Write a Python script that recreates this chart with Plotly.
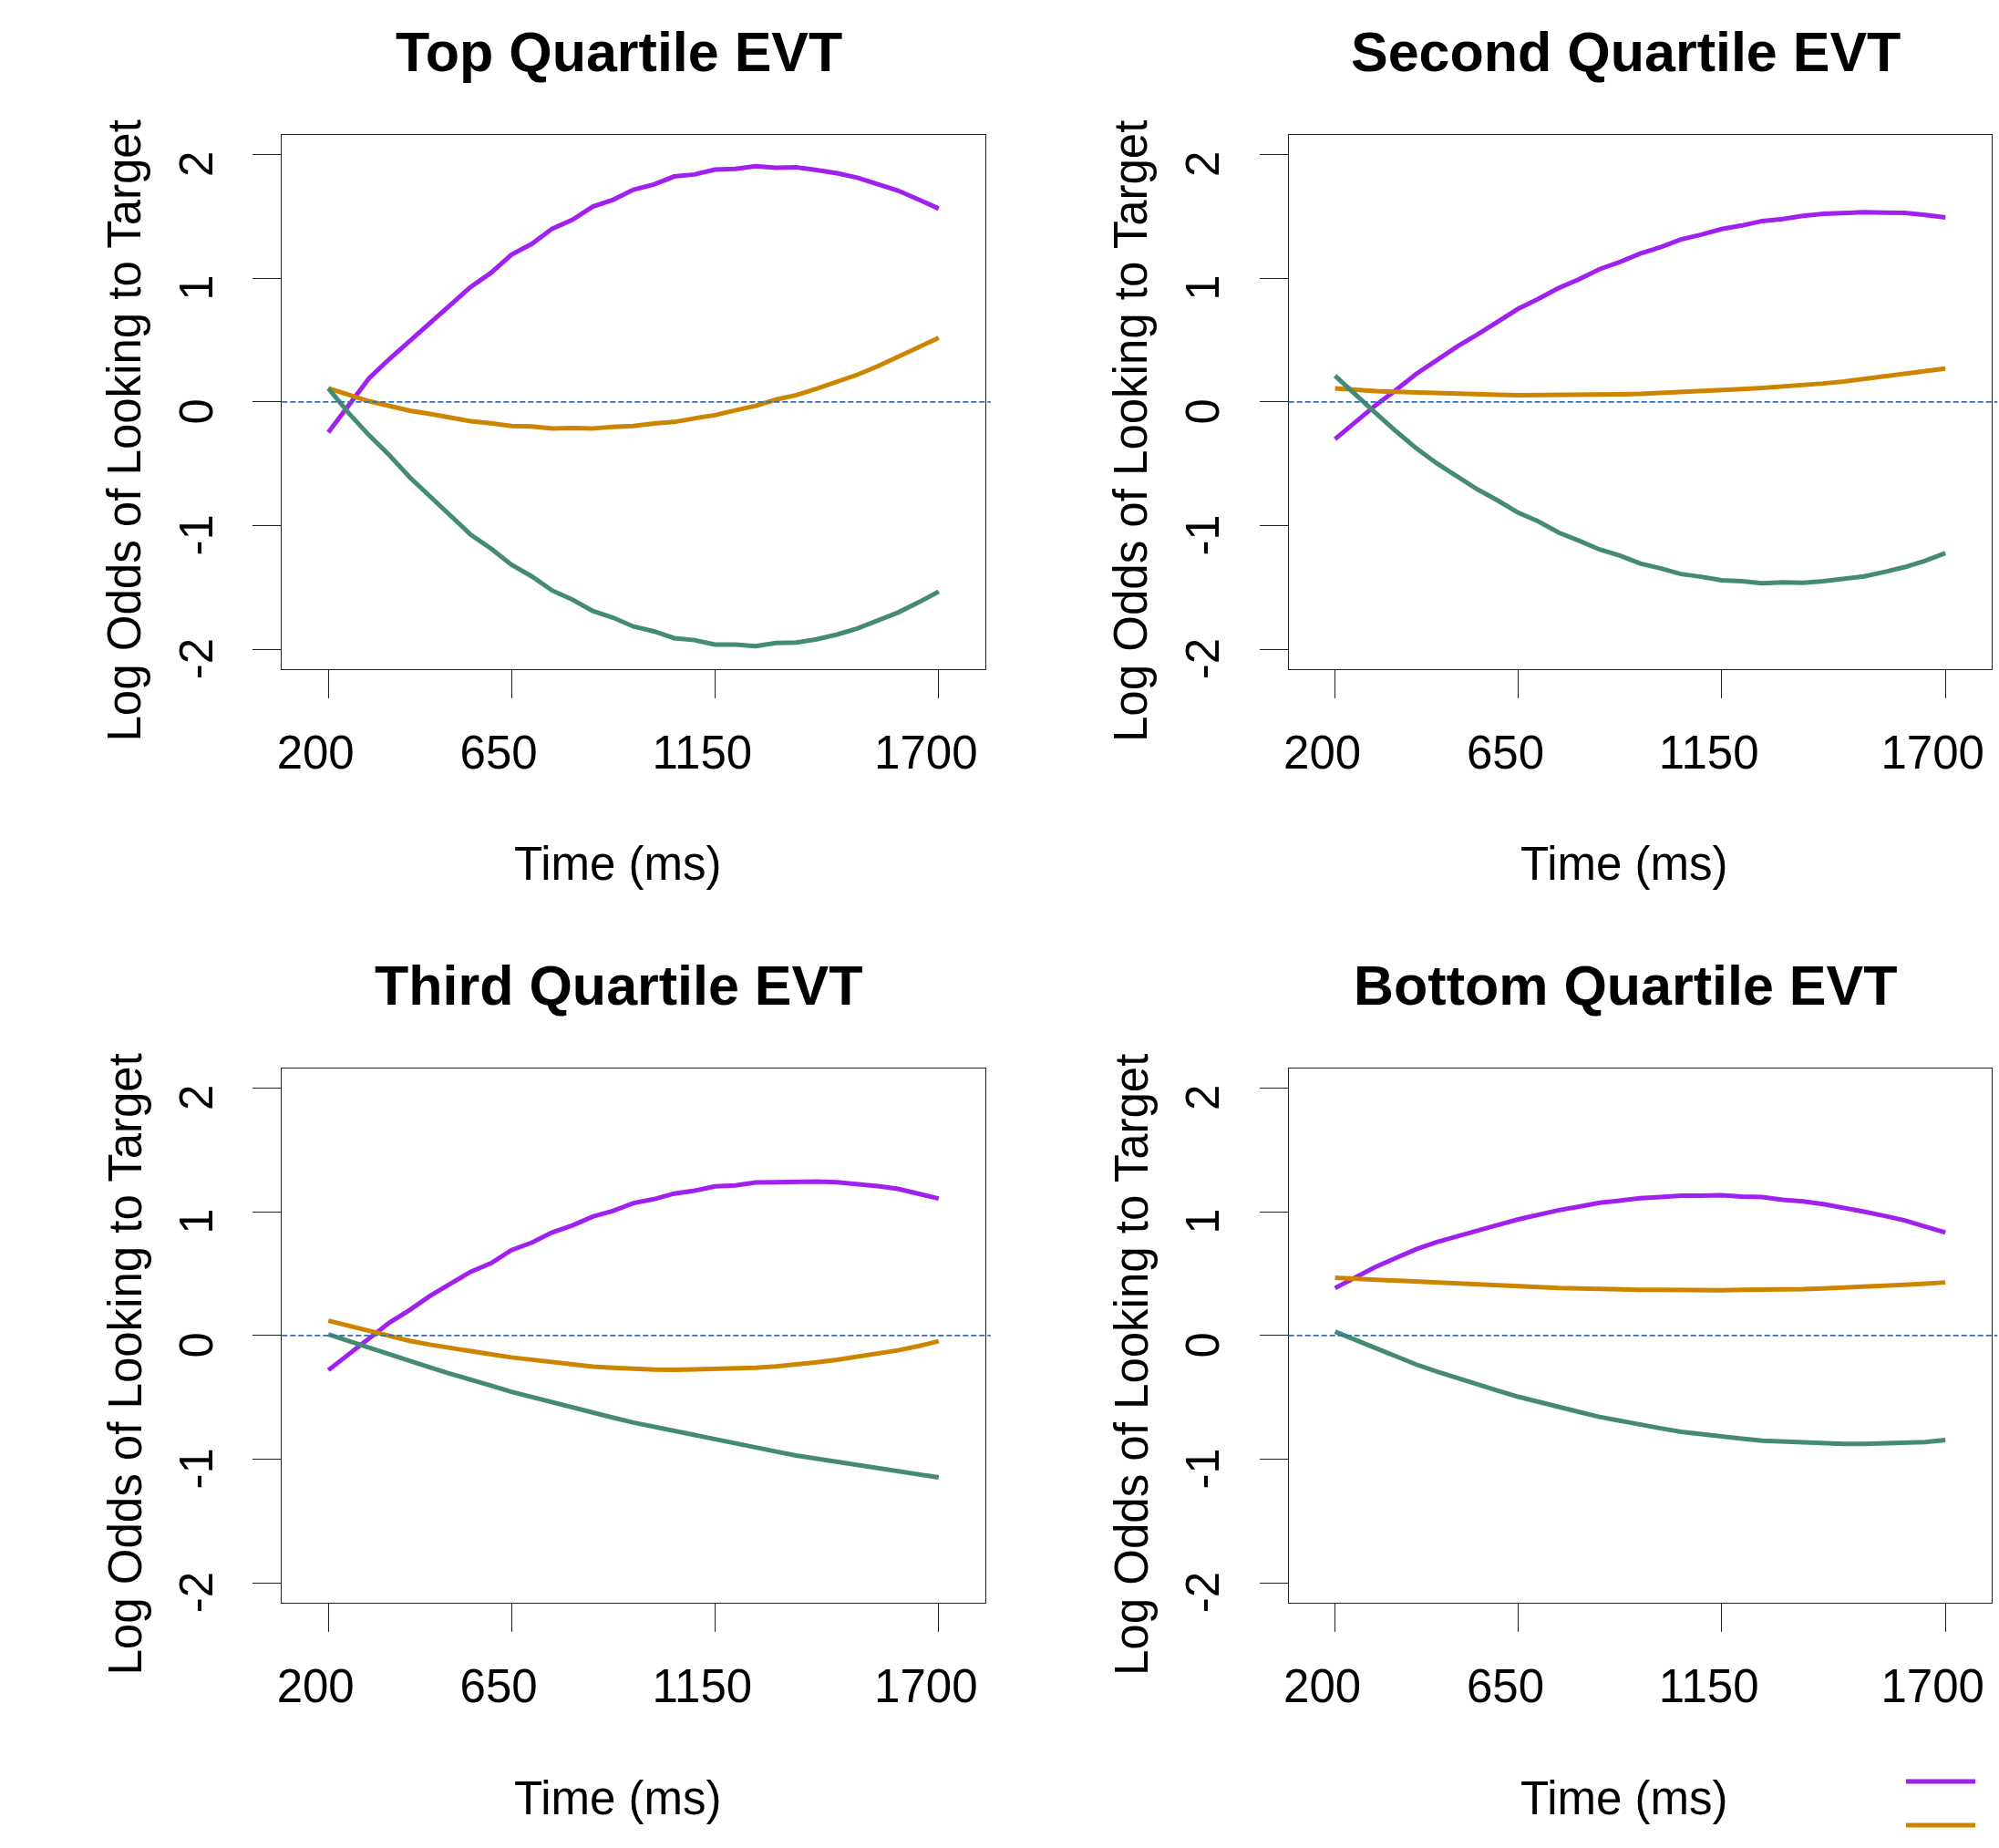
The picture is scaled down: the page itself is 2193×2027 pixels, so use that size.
import plotly.graph_objects as go

W, H = 2193, 2027

# ---------------- data ----------------
time_ms = [200, 250, 300, 350, 400, 450, 500, 550, 600, 650, 700, 750, 800, 850, 900,
           950, 1000, 1050, 1100, 1150, 1200, 1250, 1300, 1350, 1400, 1450, 1500,
           1550, 1600, 1650, 1700]

panel_titles = ["Top Quartile EVT", "Second Quartile EVT",
                "Third Quartile EVT", "Bottom Quartile EVT"]

x_tick_vals = [200, 650, 1150, 1700]
x_tick_text = ["200", "650", "1150", "1700"]
y_tick_vals = [-2, -1, 0, 1, 2]
y_tick_text = ["-2", "-1", "0", "1", "2"]

# Top quartile
top_purple = [-0.246, -0.032, 0.191, 0.347, 0.493, 0.639, 0.784, 0.930, 1.044, 1.190,
              1.277, 1.400, 1.472, 1.579, 1.634, 1.715, 1.757, 1.822, 1.838, 1.877,
              1.883, 1.906, 1.893, 1.896, 1.874, 1.848, 1.812, 1.757, 1.708, 1.637, 1.562]
top_orange = [0.110, 0.055, 0.006, -0.032, -0.071, -0.097, -0.130, -0.156, -0.172, -0.194,
              -0.198, -0.214, -0.211, -0.214, -0.201, -0.194, -0.175, -0.162, -0.133, -0.107,
              -0.068, -0.032, 0.019, 0.055, 0.107, 0.162, 0.220, 0.288, 0.360, 0.441, 0.519]
top_green = [0.110, -0.091, -0.269, -0.431, -0.609, -0.765, -0.917, -1.073, -1.186, -1.316,
             -1.410, -1.524, -1.598, -1.689, -1.744, -1.815, -1.854, -1.909, -1.925, -1.961,
             -1.961, -1.974, -1.948, -1.945, -1.919, -1.880, -1.831, -1.770, -1.702, -1.621, -1.533]

# Second quartile
second_purple = [-0.301, -0.162, -0.026, 0.097, 0.227, 0.337, 0.447, 0.545, 0.648, 0.752,
                 0.833, 0.921, 0.992, 1.073, 1.131, 1.199, 1.251, 1.313, 1.352, 1.397,
                 1.426, 1.462, 1.478, 1.504, 1.520, 1.527, 1.533, 1.530, 1.527, 1.511, 1.491]
second_orange = [0.110, 0.097, 0.088, 0.081, 0.075, 0.068, 0.065, 0.062, 0.058, 0.055,
                 0.055, 0.055, 0.058, 0.058, 0.062, 0.065, 0.071, 0.078, 0.084, 0.094,
                 0.104, 0.113, 0.123, 0.136, 0.149, 0.165, 0.185, 0.204, 0.224, 0.246, 0.269]
second_green = [0.211, 0.055, -0.091, -0.237, -0.376, -0.496, -0.603, -0.707, -0.797, -0.895,
                -0.966, -1.057, -1.122, -1.193, -1.242, -1.306, -1.345, -1.391, -1.413, -1.442,
                -1.449, -1.465, -1.459, -1.462, -1.449, -1.433, -1.410, -1.374, -1.335, -1.284, -1.222]

# Third quartile
third_purple = [-0.280, -0.149, -0.017, 0.103, 0.206, 0.320, 0.418, 0.515, 0.584, 0.690,
                0.750, 0.833, 0.890, 0.961, 1.007, 1.070, 1.102, 1.147, 1.170, 1.205,
                1.213, 1.236, 1.239, 1.245, 1.245, 1.239, 1.227, 1.207, 1.185, 1.147, 1.107]
third_orange = [0.120, 0.077, 0.034, -0.006, -0.043, -0.074, -0.103, -0.132, -0.152, -0.177,
                -0.195, -0.217, -0.232, -0.252, -0.260, -0.272, -0.275, -0.278, -0.275, -0.272,
                -0.266, -0.260, -0.249, -0.235, -0.217, -0.197, -0.174, -0.152, -0.120, -0.086, -0.046]
third_green = [0.009, -0.046, -0.097, -0.152, -0.206, -0.258, -0.309, -0.361, -0.406, -0.455,
               -0.498, -0.544, -0.584, -0.627, -0.664, -0.704, -0.738, -0.775, -0.810, -0.844,
               -0.876, -0.910, -0.938, -0.970, -0.996, -1.024, -1.050, -1.076, -1.099, -1.121, -1.147]

# Bottom quartile
bottom_purple = [0.383, 0.469, 0.555, 0.627, 0.698, 0.755, 0.804, 0.850, 0.893, 0.938,
                 0.976, 1.013, 1.041, 1.073, 1.090, 1.110, 1.119, 1.130, 1.130, 1.133,
                 1.122, 1.119, 1.096, 1.084, 1.062, 1.036, 1.001, 0.967, 0.930, 0.881, 0.833]
bottom_orange = [0.466, 0.458, 0.449, 0.441, 0.432, 0.424, 0.418, 0.409, 0.403, 0.395,
                 0.389, 0.383, 0.381, 0.375, 0.372, 0.369, 0.369, 0.366, 0.366, 0.366,
                 0.369, 0.369, 0.372, 0.375, 0.381, 0.386, 0.392, 0.401, 0.409, 0.418, 0.429]
bottom_green = [0.031, -0.037, -0.103, -0.169, -0.235, -0.292, -0.346, -0.395, -0.446, -0.495,
                -0.538, -0.584, -0.618, -0.658, -0.690, -0.727, -0.750, -0.778, -0.798, -0.821,
                -0.833, -0.850, -0.858, -0.867, -0.873, -0.876, -0.876, -0.873, -0.870, -0.861, -0.844]

series_names = ["Condition 1", "Condition 2", "Condition 3"]
series_colors = ["#A020F0", "#CD8500", "#458B74"]

panels = [
    [top_purple, top_orange, top_green],
    [second_purple, second_orange, second_green],
    [third_purple, third_orange, third_green],
    [bottom_purple, bottom_orange, bottom_green],
]

# ---------------- layout geometry (pixels) ----------------
FONT = "Liberation Sans, Arial, Helvetica, sans-serif"
col_left = [309.3, 1413.7]
row_top = [147.7, 1171.7]
box_w, box_h = 771.4, 586.3
title_cx = [678.5, 1783.0]
title_cy = [57.0, 1081.0]
xlab_cy = [948.0, 1972.0]
ylab_cx = [136.5, 1241.0]
ylab_cy = [473.0, 1497.0]


def px_x(p):
    return p / W


def px_y(p):
    return 1 - p / H


fig = go.Figure()
layout = dict(
    width=W, height=H, autosize=False,
    margin=dict(l=0, r=0, t=0, b=0, pad=0, autoexpand=False),
    paper_bgcolor="white", plot_bgcolor="white",
    showlegend=False,
    font=dict(family=FONT, color="black"),
)
annotations = []
shapes = []

for k in range(4):
    r, c = divmod(k, 2)
    sfx = "" if k == 0 else str(k + 1)
    xa, ya = "x" + sfx, "y" + sfx
    for vals, name, color in zip(panels[k], series_names, series_colors):
        fig.add_trace(go.Scatter(
            x=time_ms, y=vals, mode="lines", name=name,
            line=dict(color=color, width=5),
            xaxis=xa, yaxis=ya, showlegend=False,
        ))
    layout["xaxis" + sfx] = dict(
        domain=[px_x(col_left[c]), px_x(col_left[c] + box_w)],
        anchor=ya, range=[86, 1814],
        tickmode="array", tickvals=x_tick_vals, ticktext=x_tick_text,
        ticks="outside", ticklen=31, tickwidth=1, tickcolor="#222",
        showline=True, mirror=True, linecolor="#222", linewidth=1,
        showgrid=False, zeroline=False,
        tickfont=dict(family=FONT, size=51, color="black"),
        ticklabelshift=-14, ticklabelstandoff=16,
    )
    layout["yaxis" + sfx] = dict(
        domain=[px_y(row_top[r] + box_h), px_y(row_top[r])],
        anchor=xa, range=[-2.16, 2.16],
        tickmode="array", tickvals=y_tick_vals, ticktext=y_tick_text,
        ticks="outside", ticklen=31, tickwidth=1, tickcolor="#222",
        showline=True, mirror=True, linecolor="#222", linewidth=1,
        showgrid=False, zeroline=False, tickangle=-90,
        tickfont=dict(family=FONT, size=51, color="black"),
        ticklabelshift=18, ticklabelstandoff=24,
    )
    # dashed reference line at 0
    shapes.append(dict(
        type="line", xref=xa + " domain", yref=ya,
        x0=0, x1=1.008, y0=0, y1=0,
        line=dict(color="#2F6DB5", width=1.8, dash="6px,3px"),
    ))
    annotations.append(dict(
        text="<b>" + panel_titles[k] + "</b>", xref="paper", yref="paper",
        x=px_x(title_cx[c]), y=px_y(title_cy[r]),
        xanchor="center", yanchor="middle", showarrow=False,
        font=dict(family=FONT, size=61, color="black"),
    ))
    annotations.append(dict(
        text="Time (ms)", xref="paper", yref="paper",
        x=px_x(title_cx[c] - 1), y=px_y(xlab_cy[r]),
        xanchor="center", yanchor="middle", showarrow=False,
        font=dict(family=FONT, size=51, color="black"),
    ))
    annotations.append(dict(
        text="Log Odds of Looking to Target", xref="paper", yref="paper",
        x=px_x(ylab_cx[c]), y=px_y(ylab_cy[r]), textangle=-90,
        xanchor="center", yanchor="middle", showarrow=False,
        font=dict(family=FONT, size=51, color="black"),
    ))

# partially visible legend keys (bottom-right corner)
legend_y = [1954, 2002]
for yy, color in zip(legend_y, series_colors[:2]):
    shapes.append(dict(
        type="line", xref="paper", yref="paper",
        x0=px_x(2091), x1=px_x(2167), y0=px_y(yy), y1=px_y(yy),
        line=dict(color=color, width=5),
    ))

layout["annotations"] = annotations
layout["shapes"] = shapes
fig.update_layout(**layout)
fig.write_html("out.html",
               config={"displayModeBar": False},
               post_script="document.body.style.margin='0';document.body.style.overflow='hidden';")
